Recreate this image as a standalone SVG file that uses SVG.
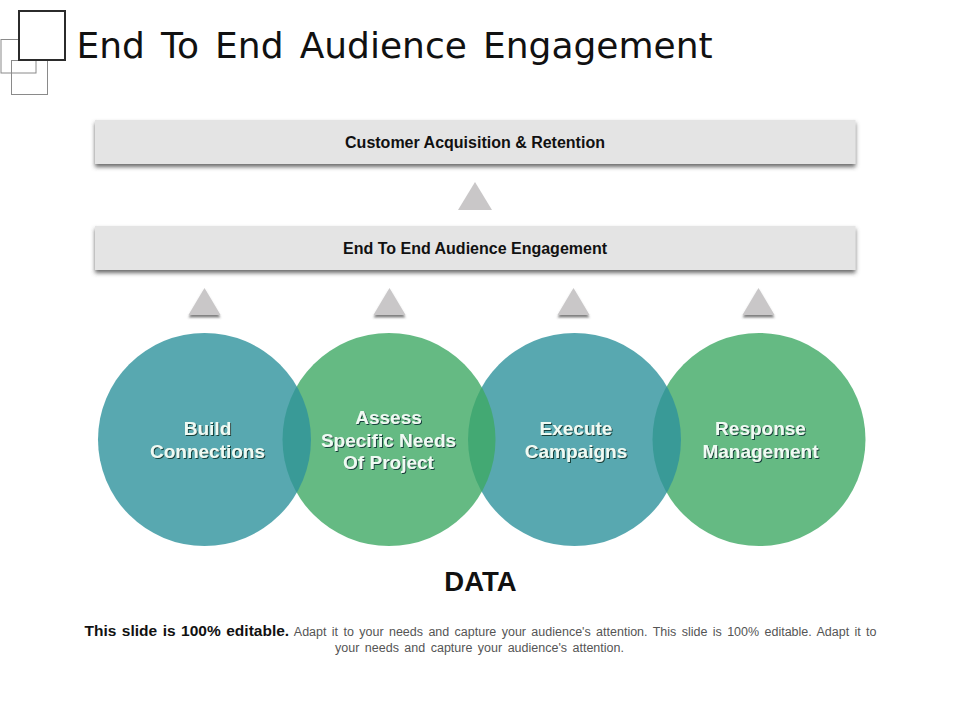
<svg xmlns="http://www.w3.org/2000/svg" width="960" height="720" viewBox="0 0 960 720">
<defs>
<filter id="barShadow" x="-5%" y="-20%" width="110%" height="150%"><feDropShadow dx="0" dy="3" stdDeviation="2" flood-color="#444" flood-opacity=".8"/></filter>
<filter id="triShadow" x="-30%" y="-30%" width="160%" height="170%"><feDropShadow dx="0" dy="2.500" stdDeviation="1.200" flood-color="#555" flood-opacity=".75"/></filter>
<filter id="textShadow" x="-20%" y="-30%" width="140%" height="170%"><feDropShadow dx="1" dy="1" stdDeviation=".7" flood-color="#12403a" flood-opacity="1"/></filter>
</defs>
<style>
.bar{fill:#e4e4e4;filter:url(#barShadow)}
.tri{fill:#c9c7c8}
.teal{fill:#2e929c;fill-opacity:.8}
.green{fill:#3ea964;fill-opacity:.8}
text{font-family:"Liberation Sans",Arial,sans-serif;text-anchor:middle}
.barT{font-size:16px;font-weight:700;fill:#111}
.cT{font-size:19px;font-weight:700;fill:#effaf3;filter:url(#textShadow)}
</style>
<rect width="960" height="720" fill="#fff"/>
<g id="logo" fill="none">
<rect x="1" y="39.500" width="35" height="33.500" stroke="#8a8a8a" stroke-width="1"/>
<rect x="11.500" y="60.500" width="36" height="34" stroke="#8a8a8a" stroke-width="1"/>
<rect x="19" y="11" width="46" height="49" stroke="#2b2b2b" stroke-width="2" fill="#fff"/>
</g>
<text id="title" x="76.500" y="57.500" style="font-family:'DejaVu Sans',sans-serif;text-anchor:start;font-size:36px;word-spacing:4.700px" fill="#111">End To End Audience Engagement</text>
<g id="bar-top"><rect class="bar" x="95" y="120" width="760.500" height="44"/><text class="barT" x="475" y="147.500">Customer Acquisition &amp; Retention</text></g>
<g id="bar-mid"><rect class="bar" x="95" y="226" width="760.500" height="44"/><text class="barT" x="475" y="253.500">End To End Audience Engagement</text></g>
<g id="connectors">
<polygon class="tri" points="475,182 492,210 458,210"/>
<g filter="url(#triShadow)">
<polygon class="tri" points="204.500,288 220.500,315 188.500,315"/>
<polygon class="tri" points="389.500,288 405.500,315 373.500,315"/>
<polygon class="tri" points="573.500,288 589.500,315 557.500,315"/>
<polygon class="tri" points="758.500,288 774.500,315 742.500,315"/>
</g>
</g>
<g id="node-4"><circle class="green" cx="759" cy="439.500" r="106.500"/></g>
<g id="node-3"><circle class="teal" cx="574.500" cy="439.500" r="106.500"/></g>
<g id="node-2"><circle class="green" cx="389" cy="439.500" r="106.500"/></g>
<g id="node-1"><circle class="teal" cx="204.500" cy="439.500" r="106.500"/></g>
<g id="labels">
<text class="cT" x="207.500" y="434.500">Build</text><text class="cT" x="207.500" y="457.500">Connections</text>
<text class="cT" x="388.500" y="423.500">Assess</text><text class="cT" x="388.500" y="446.500">Specific Needs</text><text class="cT" x="388.500" y="468.500">Of Project</text>
<text class="cT" x="576" y="434.500">Execute</text><text class="cT" x="576" y="457.500">Campaigns</text>
<text class="cT" x="760.500" y="434.500">Response</text><text class="cT" x="760.500" y="457.500">Management</text>
</g>
<text id="data" x="480.500" y="591" font-size="27.500" font-weight="700" fill="#111">DATA</text>
<g id="caption">
<text x="480.500" y="636" font-size="12.500" fill="#555" word-spacing="1.900"><tspan font-size="15.500" font-weight="700" fill="#111" word-spacing="1.200">This slide is 100% editable.</tspan> Adapt it to your needs and capture your audience's attention. This slide is 100% editable. Adapt it to</text>
<text x="479.500" y="652" font-size="12.500" fill="#555" word-spacing="2">your needs and capture your audience's attention.</text>
</g>
</svg>
